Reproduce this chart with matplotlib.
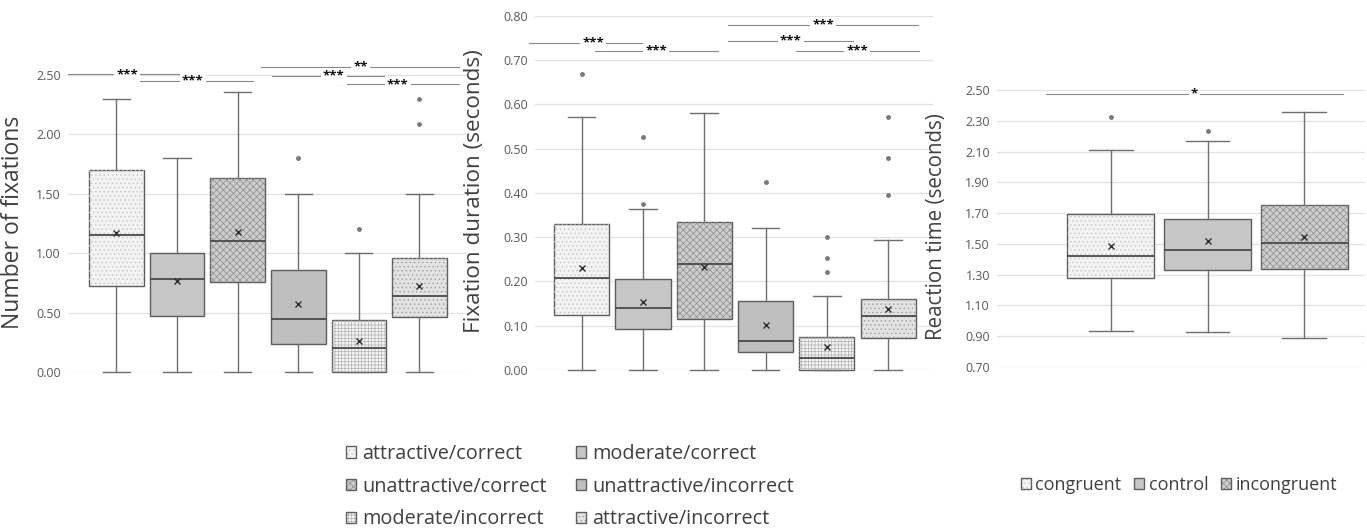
import numpy as np
import matplotlib.pyplot as plt
from matplotlib.patches import Patch, PathPatch

plt.rcParams['font.family'] = ['Open Sans', 'DejaVu Sans']
plt.rcParams['hatch.linewidth'] = 0.5

# ==========================
# DATA
# ==========================

conditions = ["attractive/correct", "moderate/correct", "unattractive/correct",
              "unattractive/incorrect", "moderate/incorrect", "attractive/incorrect"]

# number of fixations
nfix_lo = [0.00, 0.00, 0.00, 0.00, 0.00, 0.00]
nfix_q1 = [0.72, 0.47, 0.76, 0.24, 0.00, 0.46]
nfix_med = [1.15, 0.78, 1.10, 0.45, 0.20, 0.64]
nfix_q3 = [1.70, 1.00, 1.63, 0.86, 0.435, 0.96]
nfix_hi = [2.30, 1.80, 2.36, 1.50, 1.00, 1.50]
nfix_mean = [1.17, 0.77, 1.18, 0.57, 0.26, 0.72]
nfix_out = [[], [], [], [1.80], [1.20], [2.30, 2.09]]

# fixation duration (seconds)
dur_lo = [0.00, 0.00, 0.00, 0.00, 0.00, 0.00]
dur_q1 = [0.125, 0.093, 0.115, 0.041, 0.00, 0.073]
dur_med = [0.209, 0.139, 0.239, 0.065, 0.028, 0.122]
dur_q3 = [0.331, 0.205, 0.334, 0.156, 0.075, 0.160]
dur_hi = [0.572, 0.364, 0.580, 0.320, 0.167, 0.293]
dur_mean = [0.230, 0.153, 0.232, 0.101, 0.053, 0.138]
dur_out = [[0.670], [0.527, 0.374], [], [0.424], [0.301, 0.252, 0.222],
           [0.572, 0.479, 0.395]]

# reaction time (seconds)
rt_groups = ["congruent", "control", "incongruent"]
rt_lo = [0.936, 0.928, 0.889]
rt_q1 = [1.281, 1.327, 1.335]
rt_med = [1.424, 1.463, 1.507]
rt_q3 = [1.691, 1.663, 1.752]
rt_hi = [2.107, 2.168, 2.357]
rt_mean = [1.485, 1.520, 1.546]
rt_out = [[2.324], [2.231], []]

# significance brackets: (x start, x end, y, label)
sig_nfix = [(0.20, 2.15, 2.505, "***"), (1.26, 3.26, 2.45, "***"),
            (3.39, 6.66, 2.57, "**"), (3.57, 5.60, 2.49, "***"),
            (4.62, 6.66, 2.42, "***")]
sig_dur = [(0.14, 2.24, 0.740, "***"), (1.21, 3.23, 0.721, "***"),
           (3.39, 6.49, 0.779, "***"), (3.39, 5.43, 0.744, "***"),
           (4.49, 6.50, 0.721, "***")]
sig_rt = [(0.33, 3.40, 2.472, "*")]

# ==========================
# STYLES
# ==========================

# facecolor, hatch, hatch colour
styles6 = [("#f3f3f3", "....", "#c4c4c4"),
           ("#c6c6c6", None, None),
           ("#cdcdcd", "xxxxx", "#8f8f8f"),
           ("#bfbfbf", None, None),
           ("#f4f4f4", "+++++", "#b4b4b4"),
           ("#e2e2e2", "....", "#a0a0a0")]
styles3 = [styles6[0], styles6[1], styles6[2]]

EDGE = "#5e5e5e"
TICK_COL = "#595959"


def make_stats(lo, q1, med, q3, hi, mean, out):
    return [dict(whislo=a, q1=b, med=c, q3=d, whishi=e, mean=f, fliers=g)
            for a, b, c, d, e, f, g in zip(lo, q1, med, q3, hi, mean, out)]


def draw_panel(ax, stats, styles, ylim, yticks, ylabel, label_size, label_xy, sigs):
    pos = np.arange(1, len(stats) + 1)
    bp = ax.bxp(stats, positions=pos, widths=0.9, patch_artist=True,
                showmeans=True, showfliers=True,
                boxprops=dict(edgecolor=EDGE, linewidth=1.0),
                medianprops=dict(color="#4a4a4a", linewidth=1.3),
                whiskerprops=dict(color="#6e6e6e", linewidth=1.0),
                capprops=dict(color="#6e6e6e", linewidth=1.0),
                meanprops=dict(marker="x", markeredgecolor="#303030",
                               markersize=5, markeredgewidth=1.0),
                flierprops=dict(marker="o", markerfacecolor="#7a7a7a",
                                markeredgecolor="#7a7a7a", markersize=2.5))
    for key in bp:
        for art in bp[key]:
            art.set_clip_on(False)
    for box, (fc, hatch, hc) in zip(bp["boxes"], styles):
        box.set_facecolor(fc)
        if hatch:
            ax.add_patch(PathPatch(box.get_path(), transform=ax.transData,
                                   fill=False, hatch=hatch, edgecolor=hc,
                                   lw=0, zorder=2.05, clip_on=False))

    for x0, x1, y, lab in sigs:
        ax.plot([x0, x1], [y, y], color="#8a8a8a", lw=0.8, zorder=3,
                clip_on=False)
        ax.text((x0 + x1) / 2, y, lab, ha="center", va="center",
                fontsize=9.5, fontweight="bold", color="#111111", zorder=4,
                bbox=dict(facecolor="white", edgecolor="none", pad=1.5))

    ax.set_ylim(*ylim)
    ax.set_yticks(yticks)
    ax.set_yticklabels([f"{t:.2f}" for t in yticks])
    ax.set_xticks([])
    ax.yaxis.grid(True, color="#e2e2e2", lw=0.9)
    ax.set_axisbelow(True)
    for s in ax.spines.values():
        s.set_visible(False)
    ax.tick_params(axis="y", length=0, pad=5, labelsize=9, labelcolor=TICK_COL)
    ax.set_ylabel(ylabel, fontsize=label_size, color="#404040")
    ax.yaxis.set_label_coords(*label_xy)


fig = plt.figure(figsize=(13.67, 5.31), dpi=100)

ax1 = fig.add_axes([0.0497, 0.2994, 0.2926, 0.593])
ax1.set_xlim(0.2, 6.8)
draw_panel(ax1, make_stats(nfix_lo, nfix_q1, nfix_med, nfix_q3, nfix_hi,
                           nfix_mean, nfix_out),
           styles6, (0, 2.65), np.arange(0, 2.51, 0.5), "Number of fixations",
           16.5, (-0.107, 0.476), sig_nfix)

ax2 = fig.add_axes([0.3914, 0.3032, 0.2911, 0.6667])
ax2.set_xlim(0.24, 6.73)
draw_panel(ax2, make_stats(dur_lo, dur_q1, dur_med, dur_q3, dur_hi,
                           dur_mean, dur_out),
           styles6, (0, 0.80), np.arange(0, 0.81, 0.1),
           "Fixation duration (seconds)", 16.2, (-0.126, 0.504), sig_dur)

ax3 = fig.add_axes([0.7293, 0.3089, 0.2692, 0.5217])
ax3.set_xlim(-0.18, 3.63)
draw_panel(ax3, make_stats(rt_lo, rt_q1, rt_med, rt_q3, rt_hi, rt_mean, rt_out),
           styles3, (0.70, 2.50), np.arange(0.70, 2.51, 0.2),
           "Reaction time (seconds)", 14.8, (-0.136, 0.507), sig_rt)


def legend_handle(fc, hatch, hc):
    parts = [Patch(facecolor=fc, edgecolor="none")]
    if hatch:
        parts.append(Patch(fill=False, hatch=hatch, edgecolor=hc, lw=0))
    parts.append(Patch(fill=False, edgecolor=EDGE, lw=1.0))
    return tuple(parts)


# legend rows are read left-to-right, matplotlib fills columns first
order = [0, 2, 4, 1, 3, 5]
fig.legend([legend_handle(*styles6[i]) for i in order],
           [conditions[i] for i in order],
           loc="upper left", bbox_to_anchor=(0.2531, 0.164), ncol=2,
           frameon=False, fontsize=14.3, labelcolor="#404040",
           handlelength=0.5, handleheight=0.5, handletextpad=0.3,
           columnspacing=1.5, labelspacing=0.64, borderpad=0, borderaxespad=0)

fig.legend([legend_handle(*s) for s in styles3], rt_groups,
           loc="upper left", bbox_to_anchor=(0.7469, 0.104), ncol=3,
           frameon=False, fontsize=13, labelcolor="#404040",
           handlelength=0.55, handleheight=0.55, handletextpad=0.25,
           columnspacing=0.7, borderpad=0, borderaxespad=0)

fig.savefig("out.png", dpi=100, facecolor="white")
